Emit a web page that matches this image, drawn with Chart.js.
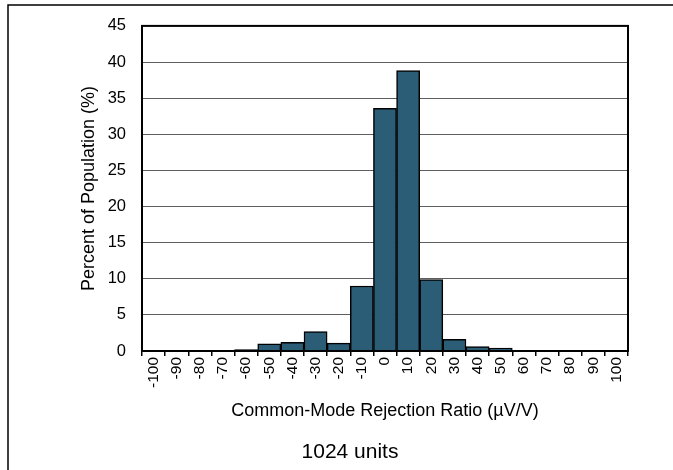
<!DOCTYPE html>
<html>
<head>
<meta charset="utf-8">
<title>CMRR Histogram</title>
<script src="https://cdn.jsdelivr.net/npm/chart.js@4"></script>
<style>
    html, body { margin: 0; padding: 0; background: #fff; }
    #wrap { position: relative; width: 673px; height: 470px; }
</style>
</head>
<body>
<div id="wrap"><canvas id="histChart"></canvas></div>
<script>
// Bin labels (µV/V) and percent of population per bin
const binLabels = ['-100', '-90', '-80', '-70', '-60', '-50', '-40', '-30', '-20', '-10',
    '0', '10', '20', '30', '40', '50', '60', '70', '80', '90', '100'];
const percentValues = [0, 0, 0, 0, 0.2, 1.0, 1.2, 2.7, 1.1, 9.0,
    33.6, 38.8, 9.9, 1.6, 0.6, 0.4, 0, 0, 0, 0, 0];
const yTicks = [0, 5, 10, 15, 20, 25, 30, 35, 40, 45];

const xTitle = 'Common-Mode Rejection Ratio (µV/V)';
const yTitle = 'Percent of Population (%)';
const footNote = '1024 units';

const FONT = '"Liberation Sans", Arial, sans-serif';

// Frame lines: outer page frame (top + left) and box around plot area
const framePlugin = {
    id: 'frames',
    beforeDraw(chart) {
        const ctx = chart.ctx;
        ctx.save();
        ctx.fillStyle = '#fff';
        ctx.fillRect(0, 0, chart.width, chart.height);
        ctx.strokeStyle = '#000';
        ctx.lineWidth = 1.5;
        ctx.beginPath();
        ctx.moveTo(chart.width, 5);
        ctx.lineTo(8, 5);
        ctx.lineTo(8, chart.height);
        ctx.stroke();
        ctx.restore();
    },
    afterDraw(chart) {
        const { left, top, right, bottom } = chart.chartArea;
        const ctx = chart.ctx;
        ctx.save();
        ctx.strokeStyle = '#000';
        ctx.lineWidth = 2;
        ctx.strokeRect(left, top, right - left, bottom - top);
        ctx.restore();
    }
};

const ctx = document.getElementById('histChart').getContext('2d');
const histChart = new Chart(ctx, {
    type: 'bar',
    data: {
        labels: binLabels,
        datasets: [{
            data: percentValues,
            backgroundColor: '#2b5d76',
            borderColor: '#000',
            borderWidth: 1.5,
            barPercentage: 1,
            categoryPercentage: 1
        }]
    },
    options: {
        responsive: true,
        maintainAspectRatio: false,
        animation: false,
        layout: {
            padding: { left: 72, right: 45, top: 20, bottom: 0.4 }
        },
        plugins: {
            legend: { display: false },
            tooltip: { enabled: false },
            title: {
                display: true,
                position: 'bottom',
                text: footNote,
                color: '#000',
                font: { family: FONT, size: 21, weight: 'normal' },
                padding: { top: 8.4, bottom: 5 }
            }
        },
        scales: {
            x: {
                afterFit(scale) { scale.height = 80; },
                grid: {
                    display: true,
                    offset: true,
                    drawOnChartArea: false,
                    drawTicks: true,
                    tickLength: 5,
                    color: '#000',
                    lineWidth: 1.5
                },
                border: { display: false },
                ticks: {
                    autoSkip: false,
                    minRotation: 90,
                    maxRotation: 90,
                    padding: 1,
                    color: '#000',
                    font: { family: FONT, size: 15.5 }
                },
                title: {
                    display: true,
                    text: xTitle,
                    color: '#000',
                    font: { family: FONT, size: 18 },
                    padding: { top: 0, bottom: 9.2 }
                }
            },
            y: {
                min: 0,
                max: 45,
                afterFit(scale) { scale.width = 70; },
                afterBuildTicks(scale) {
                    scale.ticks = yTicks.map(v => ({ value: v }));
                },
                grid: {
                    display: true,
                    drawTicks: false,
                    color: '#5e5e5e',
                    lineWidth: 1
                },
                border: { display: false },
                ticks: {
                    padding: 16,
                    color: '#000',
                    font: { family: FONT, size: 16.5 }
                },
                title: {
                    display: true,
                    text: yTitle,
                    color: '#000',
                    font: { family: FONT, size: 18 },
                    padding: { top: 6, bottom: 0 }
                }
            }
        }
    },
    plugins: [framePlugin]
});
</script>
</body>
</html>
